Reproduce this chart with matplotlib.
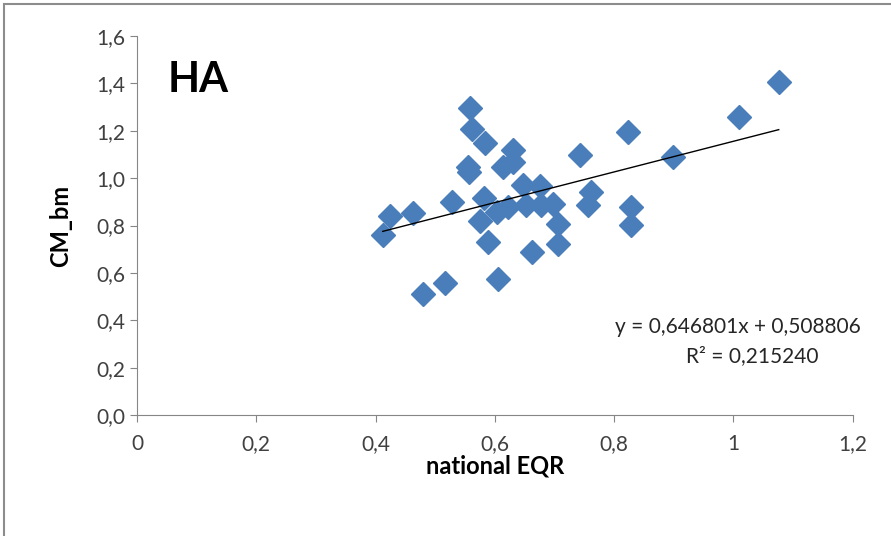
import matplotlib.pyplot as plt
from matplotlib.patches import Rectangle

# national EQR vs CM_bm, habitat HA
eqr = [0.412, 0.424, 0.462, 0.479, 0.516, 0.528, 0.558, 0.562, 0.583, 0.555,
       0.557, 0.575, 0.581, 0.588, 0.603, 0.605, 0.613, 0.630, 0.631, 0.622,
       0.647, 0.675, 0.653, 0.678, 0.697, 0.706, 0.706, 0.662, 0.742, 0.762,
       0.757, 0.824, 0.829, 0.829, 0.898, 1.010, 1.076]
cm_bm = [0.760, 0.840, 0.852, 0.510, 0.557, 0.899, 1.295, 1.207, 1.150, 1.046,
         1.025, 0.819, 0.916, 0.730, 0.857, 0.576, 1.046, 1.067, 1.120, 0.880,
         0.970, 0.965, 0.886, 0.886, 0.890, 0.805, 0.720, 0.688, 1.097, 0.941,
         0.886, 1.194, 0.878, 0.802, 1.089, 1.257, 1.405]
slope = 0.646801
intercept = 0.508806
r2 = 0.215240

xticks = [0, 0.2, 0.4, 0.6, 0.8, 1.0, 1.2]
xticklabels = ["0", "0,2", "0,4", "0,6", "0,8", "1", "1,2"]
yticks = [0.0, 0.2, 0.4, 0.6, 0.8, 1.0, 1.2, 1.4, 1.6]
yticklabels = ["0,0", "0,2", "0,4", "0,6", "0,8", "1,0", "1,2", "1,4", "1,6"]

plt.rcParams['font.family'] = ['Lato', 'DejaVu Sans']

fig = plt.figure(figsize=(8.91, 5.36), dpi=100)
fig.patches.append(Rectangle((0.005, -0.1), 1.2, 1.093, transform=fig.transFigure,
                             fill=False, edgecolor="#8c8c8c", linewidth=1.5))
ax = fig.add_axes([0.1538, 0.2257, 0.8032, 0.7071])

ax.plot(eqr, cm_bm, linestyle="none", marker="D", markersize=12.5,
        color="#4a7ebb", markeredgecolor="#4a7ebb")
x0, x1 = min(eqr), max(eqr)
ax.plot([x0, x1], [slope * x0 + intercept, slope * x1 + intercept],
        color="black", linewidth=1.0)

ax.set_xlim(0, 1.2)
ax.set_ylim(0, 1.6)
ax.set_xticks(xticks)
ax.set_xticklabels(xticklabels)
ax.set_yticks(yticks)
ax.set_yticklabels(yticklabels)
for s in ["top", "right"]:
    ax.spines[s].set_visible(False)
for s in ["left", "bottom"]:
    ax.spines[s].set_color("#868686")
ax.tick_params(colors="#868686", labelcolor="#404040", labelsize=15,
               length=5, direction="out")
ax.tick_params(axis="x", pad=9)

ax.set_xlabel("national EQR", fontsize=17, fontweight="bold", labelpad=0)
ax.set_ylabel("CM_bm", fontsize=17, fontweight="bold", labelpad=17)

ax.text(0.043, 0.884, "HA", transform=ax.transAxes, fontsize=30,
        fontweight="bold", va="center", ha="left")
eq_label = "y = %sx + %s" % (f"{slope:.6f}".replace(".", ","),
                             f"{intercept:.6f}".replace(".", ","))
ax.text(0.668, 0.231, eq_label, transform=ax.transAxes, fontsize=15,
        ha="left", va="center", color="#262626", clip_on=False)
ax.text(0.859, 0.155, "R² = " + f"{r2:.6f}".replace(".", ","),
        transform=ax.transAxes, fontsize=15, ha="center", va="center",
        color="#262626", clip_on=False)

fig.savefig("out.png", dpi=100)
